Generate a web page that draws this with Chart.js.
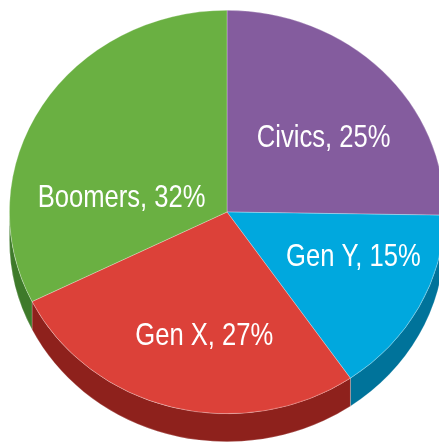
<!DOCTYPE html>
<html>
<head>
<meta charset="utf-8">
<script src="https://cdn.jsdelivr.net/npm/chart.js@4.4.1/dist/chart.umd.min.js"></script>
<style>
  html, body { margin: 0; padding: 0; background: #fff; overflow: hidden; }
  #wrap { position: absolute; left: 0; top: 0; width: 460px; height: 460px; }
</style>
</head>
<body>
<div id="wrap"><canvas id="pie" width="460" height="460"></canvas></div>
<script>
// data
var categories = ["Civics", "Gen Y", "Gen X", "Boomers"];
var shares = [25, 15, 27, 32];
var labelTexts = ["Civics, 25%", "Gen Y, 15%", "Gen X, 27%", "Boomers, 32%"];

// styles
var topColors = ["#845c9e", "#00a8de", "#dc4139", "#6ab042"];
var sideColors = ["#5f3f75", "#00739a", "#8e211c", "#3e7a2a"];
// label placement: [angle in degrees, fraction of radius]
var labelPolar = [[-40, 0.58], [20.5, 0.62], [99.7, 0.62], [188.7, 0.49]];

var SCREEN_CY = 212;   // centre of the top face on screen
var SQUASH = 0.927;    // vertical flattening of the disc
var DEPTH = 28;        // thickness of the disc
var NARROW = 0.8;      // fake condensed face

function discTransform(ctx, arc) {
  ctx.translate(arc.x, SCREEN_CY);
  ctx.scale(1, SQUASH);
  ctx.translate(-arc.x, -arc.y);
}

var pie3d = {
  id: "pie3d",
  beforeDatasetsDraw: function(chart) {
    var ctx = chart.ctx;
    var arcs = chart.getDatasetMeta(0).data;
    ctx.save();
    arcs.forEach(function(arc, i) {
      var cx = arc.x, R = arc.outerRadius, ry = R * SQUASH;
      var s = arc.startAngle, e = arc.endAngle;
      [0, -2 * Math.PI].forEach(function(shift) {
        var a = Math.max(s + shift, 0), b = Math.min(e + shift, Math.PI);
        if (a >= b) return;
        ctx.beginPath();
        ctx.ellipse(cx, SCREEN_CY, R, ry, 0, a, b);
        ctx.ellipse(cx, SCREEN_CY + DEPTH, R, ry, 0, b, a, true);
        ctx.closePath();
        ctx.fillStyle = sideColors[i];
        ctx.fill();
        ctx.strokeStyle = "rgba(255,255,255,0.25)";
        ctx.lineWidth = 0.8;
        ctx.stroke();
      });
    });
    ctx.restore();
    ctx.save();
    discTransform(ctx, arcs[0]);
  },
  afterDatasetsDraw: function(chart) {
    var ctx = chart.ctx;
    ctx.restore();
    var arcs = chart.getDatasetMeta(0).data;
    arcs.forEach(function(arc, i) {
      var R = arc.outerRadius;
      var ang = labelPolar[i][0] * Math.PI / 180, f = labelPolar[i][1];
      var x = arc.x + Math.cos(ang) * R * f;
      var y = SCREEN_CY + Math.sin(ang) * R * f * SQUASH;
      ctx.save();
      ctx.translate(x, y);
      ctx.scale(NARROW, 1);
      ctx.fillStyle = "#ffffff";
      ctx.font = '32px "Liberation Sans", Arial, sans-serif';
      ctx.textAlign = "center";
      ctx.textBaseline = "middle";
      ctx.fillText(labelTexts[i], 0, 1);
      ctx.restore();
    });
  }
};

var chart = new Chart(document.getElementById("pie"), {
  type: "pie",
  data: {
    labels: categories,
    datasets: [{
      data: shares,
      backgroundColor: topColors,
      borderColor: "rgba(255,255,255,0.35)",
      borderWidth: 0.8
    }]
  },
  options: {
    responsive: false,
    animation: false,
    layout: { padding: { left: 9, right: 15, top: 12, bottom: 12 } },
    plugins: {
      legend: { display: false },
      tooltip: { enabled: false }
    }
  },
  plugins: [pie3d]
});
</script>
</body>
</html>
